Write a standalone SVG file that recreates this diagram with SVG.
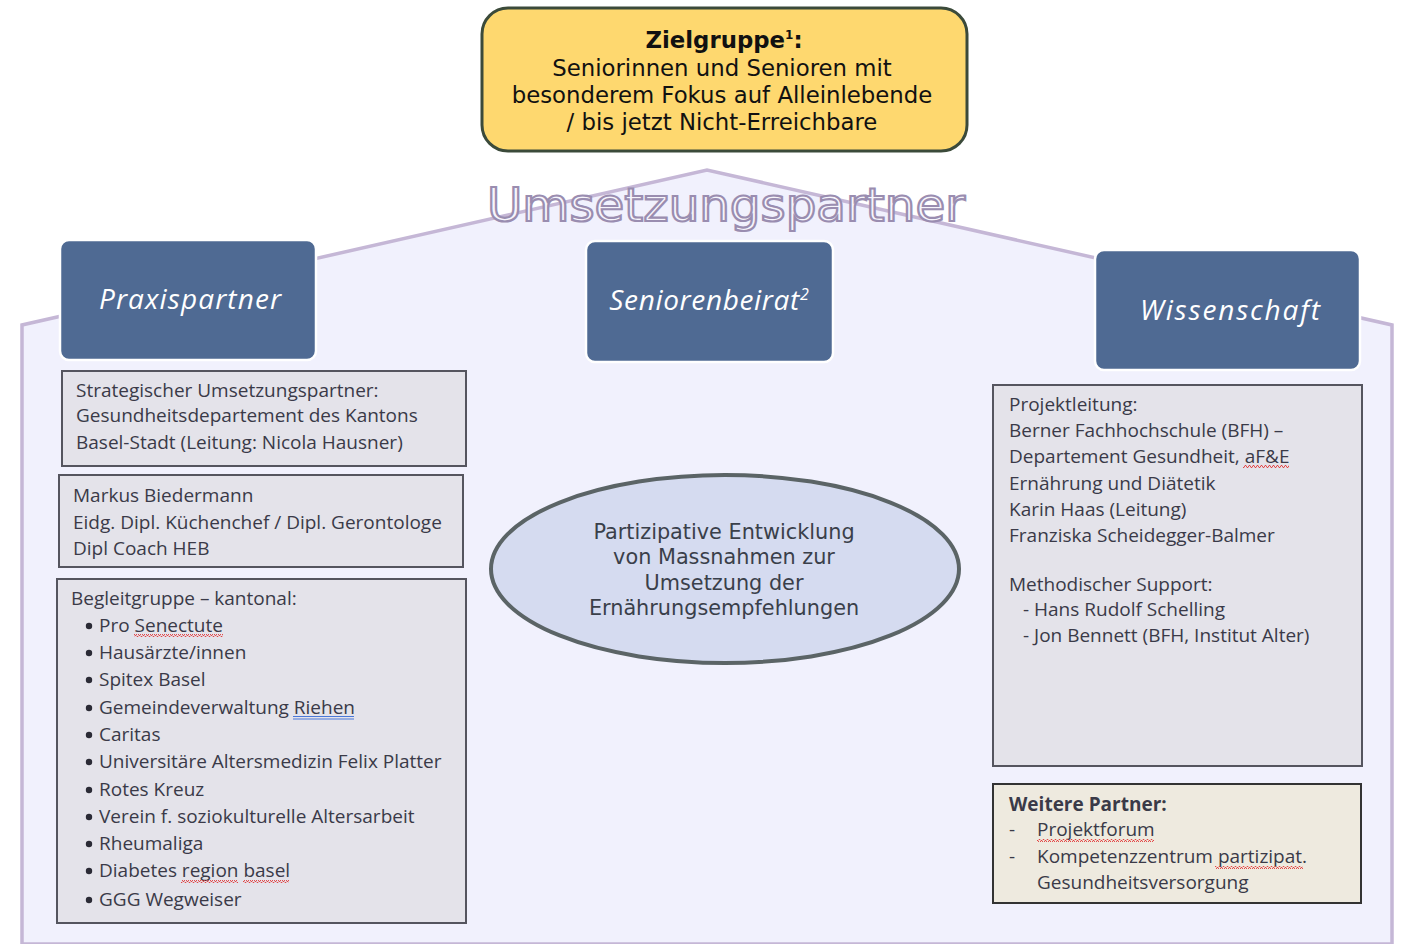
<svg xmlns="http://www.w3.org/2000/svg" width="1401" height="944" viewBox="0 0 1401 944">
<style>
.box{fill:#e4e3ea;stroke:#55555f;stroke-width:2}
.hdr{fill:#4f6a93;stroke:#ffffff;stroke-width:2.5}
.ht{font-family:"Open Sans","DejaVu Sans",sans-serif;font-style:italic;font-size:28px;fill:#ffffff;text-anchor:middle}
.t{font-family:"Open Sans","DejaVu Sans",sans-serif;font-size:19px;fill:#3a3a48}
.zt{font-family:"DejaVu Sans",sans-serif;font-size:22.8px;fill:#111111;text-anchor:middle}
.et{font-family:"DejaVu Sans",sans-serif;font-size:20.8px;fill:#3a3f4a;text-anchor:middle}
.sq{fill:url(#squig)}
</style>
<defs>
<pattern id="squig" patternUnits="userSpaceOnUse" width="4" height="3">
<polyline points="0,2.5 1,0.5 2,0.5 3,2.5 4,2.5" fill="none" stroke="#e23a3a" stroke-width="0.9"/>
</pattern>
</defs>
<rect width="1401" height="944" fill="#ffffff"/>
<g id="house">
<polygon points="22,944 22,325 707,170 1392,325 1392,944" fill="#f1f1fd" stroke="#c5b7d6" stroke-width="3.5"/>
</g>
<g id="title">
<text x="726" y="221" font-family="DejaVu Sans, sans-serif" font-size="47" text-anchor="middle" textLength="478" lengthAdjust="spacingAndGlyphs" fill="#f7f5fc" stroke="#9a8db0" stroke-width="2.2">Umsetzungspartner</text>
</g>
<g id="connectors"></g>
<g id="zielgruppe">
<rect x="482" y="8" width="485" height="143" rx="26" fill="#fed86f" stroke="#3b4a3a" stroke-width="3"/>
<text class="zt" x="724" y="48" font-weight="bold">Zielgruppe<tspan font-size="12" dy="-9">1</tspan><tspan dy="9">:</tspan></text>
<text class="zt" x="722" y="76">Seniorinnen und Senioren mit</text>
<text class="zt" x="722" y="103">besonderem Fokus auf Alleinlebende</text>
<text class="zt" x="722" y="130">/ bis jetzt Nicht-Erreichbare</text>
</g>
<g id="praxispartner">
<rect class="hdr" x="60" y="240" width="256" height="120" rx="9"/>
<text class="ht" x="190" y="309" textLength="182" lengthAdjust="spacing">Praxispartner</text>
</g>
<g id="seniorenbeirat">
<rect class="hdr" x="586" y="241" width="247" height="121" rx="9"/>
<text class="ht" x="709" y="310"><tspan textLength="190" lengthAdjust="spacing">Seniorenbeirat</tspan><tspan font-size="16" dy="-10">2</tspan></text>
</g>
<g id="wissenschaft">
<rect class="hdr" x="1095" y="250" width="265" height="120" rx="9"/>
<text class="ht" x="1230" y="320" font-size="29" textLength="180" lengthAdjust="spacing">Wissenschaft</text>
</g>
<g id="strategisch">
<rect class="box" x="62" y="371" width="404" height="95"/>
<text class="t" x="76" y="397">Strategischer Umsetzungspartner:</text>
<text class="t" x="76" y="422">Gesundheitsdepartement des Kantons</text>
<text class="t" x="76" y="449">Basel-Stadt (Leitung: Nicola Hausner)</text>
</g>
<g id="biedermann">
<rect class="box" x="59" y="475" width="404" height="92"/>
<text class="t" x="73" y="502">Markus Biedermann</text>
<text class="t" x="73" y="529">Eidg. Dipl. Küchenchef / Dipl. Gerontologe</text>
<text class="t" x="73" y="555">Dipl Coach HEB</text>
</g>
<g id="begleitgruppe">
<rect class="box" x="57" y="579" width="409" height="344"/>
<text class="t" x="71" y="605">Begleitgruppe – kantonal:</text>
<g fill="#2a2a35">
<circle cx="89" cy="626" r="3.2"/><circle cx="89" cy="653" r="3.2"/><circle cx="89" cy="680" r="3.2"/>
<circle cx="89" cy="708" r="3.2"/><circle cx="89" cy="735" r="3.2"/><circle cx="89" cy="762" r="3.2"/>
<circle cx="89" cy="790" r="3.2"/><circle cx="89" cy="817" r="3.2"/><circle cx="89" cy="844" r="3.2"/>
<circle cx="89" cy="871" r="3.2"/><circle cx="89" cy="900" r="3.2"/>
</g>
<text class="t" x="99" y="632">Pro Senectute</text>
<text class="t" x="99" y="659">Hausärzte/innen</text>
<text class="t" x="99" y="686">Spitex Basel</text>
<text class="t" x="99" y="714">Gemeindeverwaltung Riehen</text>
<text class="t" x="99" y="741">Caritas</text>
<text class="t" x="99" y="768">Universitäre Altersmedizin Felix Platter</text>
<text class="t" x="99" y="796">Rotes Kreuz</text>
<text class="t" x="99" y="823">Verein f. soziokulturelle Altersarbeit</text>
<text class="t" x="99" y="850">Rheumaliga</text>
<text class="t" x="99" y="877">Diabetes region basel</text>
<text class="t" x="99" y="906">GGG Wegweiser</text>
<rect class="sq" x="134" y="634" width="89" height="3"/>
<rect class="sq" x="181" y="880" width="57" height="3"/>
<rect class="sq" x="243" y="880" width="46" height="3"/>
<rect x="293" y="716" width="61" height="1" fill="#4a78d8"/>
<rect x="293" y="718.5" width="61" height="1" fill="#4a78d8"/>
</g>
<g id="ellipse">
<ellipse cx="725" cy="569" rx="234" ry="94" fill="#d5dbf0" stroke="#5b6466" stroke-width="4"/>
<text class="et" x="724" y="539">Partizipative Entwicklung</text>
<text class="et" x="724" y="564">von Massnahmen zur</text>
<text class="et" x="724" y="590">Umsetzung der</text>
<text class="et" x="724" y="615">Ernährungsempfehlungen</text>
</g>
<g id="projektleitung">
<rect class="box" x="993" y="385" width="369" height="381"/>
<text class="t" x="1009" y="411">Projektleitung:</text>
<text class="t" x="1009" y="437">Berner Fachhochschule (BFH) –</text>
<text class="t" x="1009" y="463">Departement Gesundheit, aF&amp;E</text>
<text class="t" x="1009" y="490">Ernährung und Diätetik</text>
<text class="t" x="1009" y="516">Karin Haas (Leitung)</text>
<text class="t" x="1009" y="542">Franziska Scheidegger-Balmer</text>
<text class="t" x="1009" y="591">Methodischer Support:</text>
<text class="t" x="1023" y="616">- Hans Rudolf Schelling</text>
<text class="t" x="1023" y="642">- Jon Bennett (BFH, Institut Alter)</text>
<rect class="sq" x="1243" y="465" width="46" height="3"/>
</g>
<g id="weitere">
<rect x="993" y="784" width="368" height="119" fill="#eeeadf" stroke="#333333" stroke-width="2"/>
<text class="t" x="1009" y="811" font-weight="bold" fill="#1a1a1a">Weitere Partner:</text>
<text class="t" x="1009" y="836" fill="#1a1a1a">-</text>
<text class="t" x="1037" y="836" fill="#1a1a1a">Projektforum</text>
<text class="t" x="1009" y="863" fill="#1a1a1a">-</text>
<text class="t" x="1037" y="863" fill="#1a1a1a">Kompetenzzentrum partizipat.</text>
<text class="t" x="1037" y="889" fill="#1a1a1a">Gesundheitsversorgung</text>
<rect class="sq" x="1037" y="839" width="117" height="3"/>
<rect class="sq" x="1215" y="866" width="88" height="3"/>
</g>
</svg>
